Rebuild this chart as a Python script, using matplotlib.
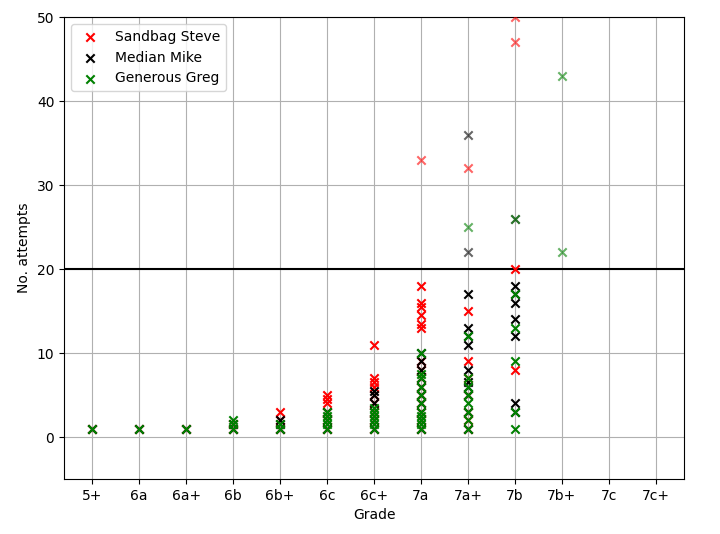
import matplotlib
matplotlib.use("Agg")
import matplotlib.pyplot as plt

grades = ["5+","6a","6a+","6b","6b+","6c","6c+","7a","7a+","7b","7b+","7c","7c+"]

steve = {"5+":[1],"6a":[1],"6a+":[1],"6b":[1,1.5],"6b+":[1,2,3],"6c":[1,2,3,4,4.5,5],
         "6c+":[1,2,3,4,5,6,6.5,7,11],"7a":[1,2,3,4,5,6,7,8,9,13,13.5,14.5,15.5,16,18,33],
         "7a+":[1,2,3,5,7,9,15,32],"7b":[8,20,47,50]}
mike = {"5+":[1],"6a":[1],"6a+":[1],"6b":[1,1.5],"6b+":[1,1.5,2],"6c":[1,2,3],
        "6c+":[1,2,3,4,5,5.5],"7a":[1,2,3,4,5,6,7,8,9,10],
        "7a+":[1,3,5,6,6.5,8,11,12,13,17,22,36],"7b":[3,4,12,14,16,17,18,26]}
greg = {"5+":[1],"6a":[1],"6a+":[1],"6b":[1,1.5,2],"6b+":[1,1.5],"6c":[1,1.5,2,2.5,3],
        "6c+":[1,1.5,2,2.5,3,3.5],"7a":[1,1.5,2,2.5,3,4,5,6,7,7.5,10],
        "7a+":[1,2,3,4,5,6,7,12,25],"7b":[1,3,9,13,17,26],"7b+":[22,43]}
threshold = 20

fig, ax = plt.subplots(figsize=(7.2, 5.34), dpi=100)
series = [("Sandbag Steve", steve, "red"), ("Median Mike", mike, "black"), ("Generous Greg", greg, "green")]
for name, d, c in series:
    lo_x, lo_y, hi_x, hi_y = [], [], [], []
    for g, vals in d.items():
        i = grades.index(g)
        for v in vals:
            if v <= threshold:
                lo_x.append(i); lo_y.append(v)
            else:
                hi_x.append(i); hi_y.append(v)
    ax.scatter(lo_x, lo_y, marker="x", color=c, label=name, zorder=3)
    ax.scatter(hi_x, hi_y, marker="x", color=c, alpha=0.6, zorder=3)

ax.axhline(threshold, color="black", zorder=2)
ax.set_xticks(range(len(grades)))
ax.set_xticklabels(grades)
ax.set_xlim(-0.6, len(grades) - 0.4)
ax.set_ylim(-5, 50)
ax.grid(True, zorder=0)
ax.set_axisbelow(True)
ax.set_xlabel("Grade")
ax.set_ylabel("No. attempts")
ax.legend(loc="upper left")
fig.subplots_adjust(left=0.089, right=0.95, top=0.968, bottom=0.103)
fig.savefig("out.png")
